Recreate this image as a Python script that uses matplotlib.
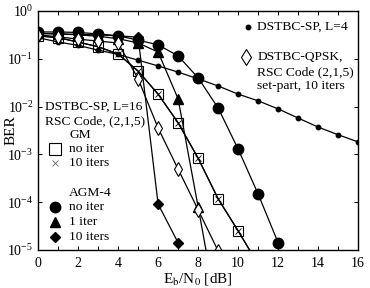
import numpy as np
import matplotlib
matplotlib.use("Agg")
import matplotlib.pyplot as plt
from matplotlib.ticker import MultipleLocator, LogLocator, NullLocator

plt.rcParams['font.family'] = ['Liberation Serif', 'DejaVu Serif']
plt.rcParams['mathtext.fontset'] = 'stix'

# data (log10 of BER)
snr_l4 = list(range(0, 17))
ber_l4 = [-0.56, -0.65, -0.72, -0.82, -0.91, -1.03, -1.15, -1.28, -1.42,
          -1.57, -1.74, -1.88, -2.05, -2.24, -2.43, -2.59, -2.74]

snr_gm = list(range(0, 12))
ber_gm_noiter = [-0.52, -0.56, -0.65, -0.75, -0.90, -1.26, -1.74, -2.34,
                 -3.08, -3.93, -4.60, -5.30]
ber_gm_10 = [-0.52, -0.56, -0.65, -0.75, -0.90, -1.26, -1.74, -2.34,
             -3.08, -3.93, -4.60, -5.30]

snr_agm0 = list(range(0, 13))
ber_agm0 = [-0.44, -0.44, -0.45, -0.48, -0.52, -0.61, -0.71, -0.94, -1.40,
            -2.03, -2.89, -3.83, -4.85]

snr_agm1 = list(range(0, 10))
ber_agm1 = [-0.47, -0.48, -0.50, -0.53, -0.58, -0.67, -0.86, -1.84, -4.10, -6.40]

snr_agm10 = list(range(0, 8))
ber_agm10 = [-0.47, -0.48, -0.49, -0.50, -0.52, -0.55, -4.04, -4.85]

snr_qpsk = list(range(0, 10))
ber_qpsk = [-0.50, -0.54, -0.59, -0.63, -0.67, -1.42, -2.45, -3.31, -4.16, -5.02]


def p(v):
    return [10 ** a for a in v]


fig = plt.figure(figsize=(3.7, 2.88), dpi=100)
ax = fig.add_axes([0.103, 0.132, 0.865, 0.830])

lw = 0.9
ax.plot(snr_l4, p(ber_l4), 'k-', lw=lw, marker='o', ms=3.2)
ax.plot(snr_gm, p(ber_gm_noiter), 'k-', lw=lw, marker='s', ms=6.5, mfc='none', mew=0.8)
ax.plot(snr_gm, p(ber_gm_10), 'k-', lw=lw, marker='x', ms=4.5, mew=0.6)
ax.plot(snr_agm0, p(ber_agm0), 'k-', lw=lw, marker='o', ms=7.5)
ax.plot(snr_agm1, p(ber_agm1), 'k-', lw=lw, marker='^', ms=7)
ax.plot(snr_agm10, p(ber_agm10), 'k-', lw=lw, marker='D', ms=5.5)
ax.plot(snr_qpsk, p(ber_qpsk), 'k-', lw=lw, marker='d', ms=7.5, mfc='white', mew=0.8)

ax.set_yscale('log')
ax.set_xlim(0, 16)
ax.set_ylim(1e-5, 1)
ax.xaxis.set_major_locator(MultipleLocator(2))
ax.xaxis.set_minor_locator(MultipleLocator(1))
ax.yaxis.set_major_locator(LogLocator(base=10, numticks=10))
ax.yaxis.set_minor_locator(NullLocator())
ax.tick_params(which='both', direction='in', top=True, right=True, labelsize=10,
               length=3, width=0.7)
ax.tick_params(axis='x', pad=5)
for s in ax.spines.values():
    s.set_linewidth(1.0)

ax.set_xlabel(r'E$_\mathrm{b}$/N$_0$ [dB]', fontsize=11, labelpad=1)
ax.set_ylabel('BER', fontsize=11)
ax.yaxis.set_label_coords(-0.065, 0.50)

# legend-like annotations (axes fraction)
kw = dict(transform=ax.transAxes, fontsize=9.7, va='center', ha='left')
def fx(px):
    return (px - 38) / 320.0
def fy(py):
    return (250 - py) / 239.0

ax.plot([fx(248)], [fy(27)], 'ko', ms=3.2, transform=ax.transAxes, clip_on=False)
ax.text(fx(257), fy(27), 'DSTBC-SP, L=4', **kw)
ax.plot([fx(246)], [fy(57)], 'kd', ms=8.5, mfc='white', mew=0.8, transform=ax.transAxes)
ax.text(fx(257), fy(57), 'DSTBC-QPSK,', **kw)
ax.text(fx(257), fy(72), 'RSC Code (2,1,5)', **kw)
ax.text(fx(257), fy(86), 'set-part, 10 iters', **kw)

ax.text(fx(45), fy(107), 'DSTBC-SP, L=16', **kw)
ax.text(fx(45), fy(121), 'RSC Code, (2,1,5)', **kw)
ax.text(fx(69), fy(135), 'GM', **kw)
ax.plot([fx(55)], [fy(149)], 'ks', ms=8, mfc='none', mew=0.8, transform=ax.transAxes)
ax.text(fx(69), fy(149), 'no iter', **kw)
ax.plot([fx(55)], [fy(163)], 'x', ms=4.5, mew=0.6, transform=ax.transAxes, color='0.4')
ax.text(fx(69), fy(163), '10 iters', **kw)
ax.text(fx(69), fy(193), 'AGM-4', **kw)
ax.plot([fx(55)], [fy(207)], 'ko', ms=7.5, transform=ax.transAxes)
ax.text(fx(69), fy(207), 'no iter', **kw)
ax.plot([fx(55)], [fy(222)], 'k^', ms=6.5, transform=ax.transAxes)
ax.text(fx(69), fy(222), '1 iter', **kw)
ax.plot([fx(55)], [fy(237)], 'kD', ms=5.5, transform=ax.transAxes)
ax.text(fx(69), fy(237), '10 iters', **kw)

fig.savefig('out.png', dpi=100)
